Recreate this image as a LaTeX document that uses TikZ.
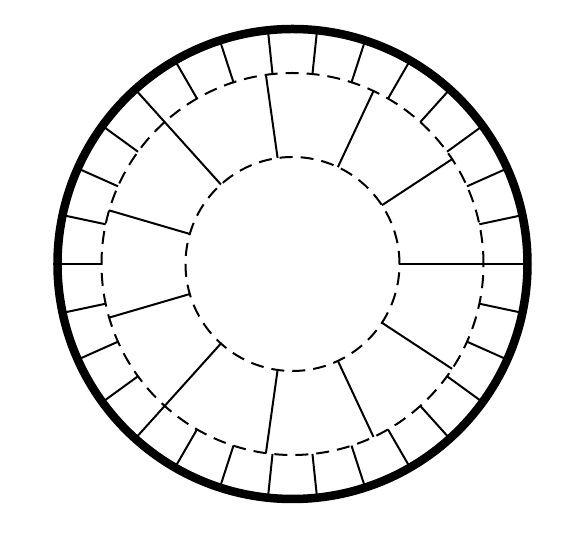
\documentclass[tikz,border=0pt]{standalone}
\begin{document}
\begin{tikzpicture}[x=1pt, y=1pt,
    branch/.style={line width=2pt},
    level/.style={line width=2pt, dash pattern=on 13pt off 8pt},
    rim/.style={line width=8.5pt}]
        \pgfmathsetmacro{\ri}{107};
        \pgfmathsetmacro{\rii}{191};
        \pgfmathsetmacro{\riii}{235};
        \useasboundingbox (-292.5,-270) rectangle (283.5,264);
        \draw [level] (0,0) circle [radius = \ri];
        \draw [level] (0,0) circle [radius = \rii];
        % leaves that stop on the middle ring
        \foreach \a in {12,24,36,48,60,72,84,96,108,120,144,156,168,180,192,204,216,240,252,264,276,288,300,312,324,336,348}
            \draw [branch] (\a:\rii) -- (\a:\riii);
        % leaves joined straight to the inner ring
        \foreach \a in {0,132,228}
            \draw [branch] (\a:\ri) -- (\a:\riii);
        % clusters
        \foreach \a in {33.3,64.9,98,163.7,196.3,262,295.1,326.7}
            \draw [branch] (\a:\ri) -- (\a:\rii);
        \draw [rim] (0,0) circle [radius = \riii];
    \end{tikzpicture}
\end{document}
